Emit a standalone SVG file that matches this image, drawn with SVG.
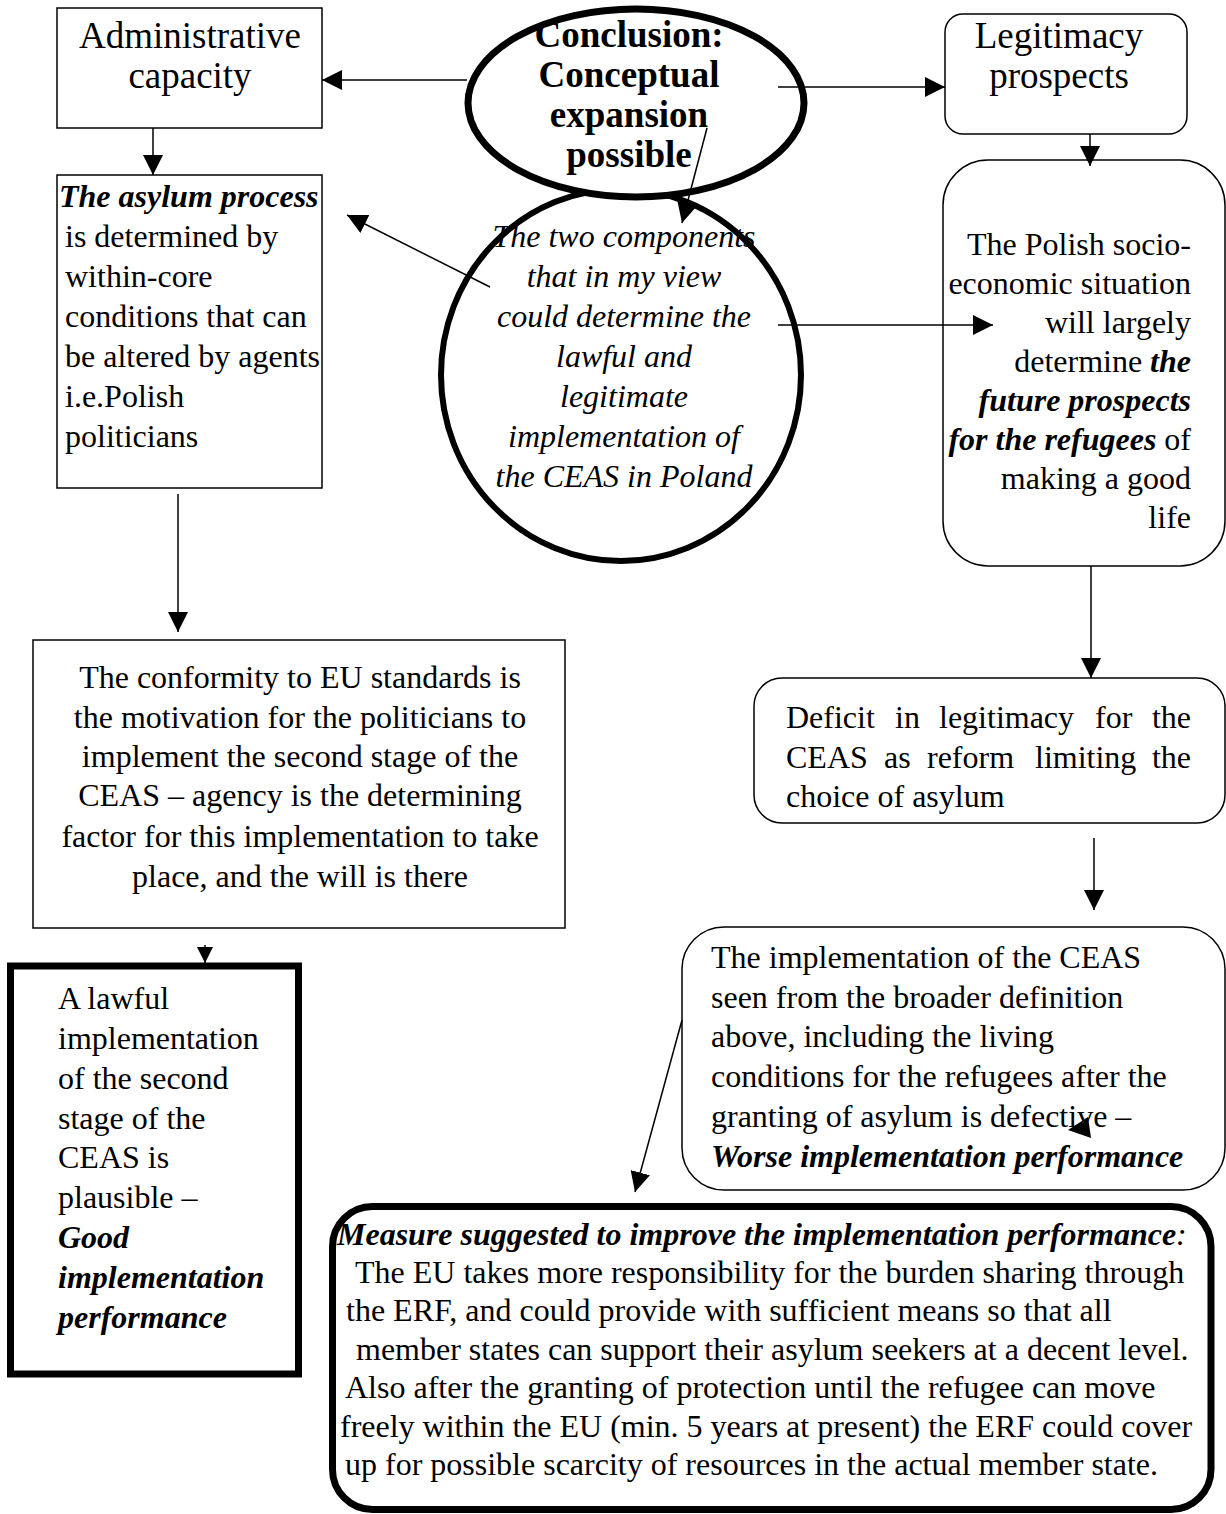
<svg xmlns="http://www.w3.org/2000/svg" width="1226" height="1514" viewBox="0 0 1226 1514">
<style>
text{font-family:"Liberation Serif","Times New Roman",serif;fill:#000}
.t{font-size:37px}
.b{font-size:32px}
.bd{font-weight:bold}
.it{font-style:italic}
.box{fill:#fff;stroke:#000;stroke-width:1.5}
.thick{fill:#fff;stroke:#000;stroke-width:7}
.ln{fill:none;stroke:#000;stroke-width:1.5}
</style>
<defs>
<marker id="ah" markerUnits="userSpaceOnUse" markerWidth="20" markerHeight="20" refX="20" refY="10" orient="auto">
<path d="M0,0 L20,10 L0,20 z" fill="#000"/>
</marker>
<marker id="ahs" markerUnits="userSpaceOnUse" markerWidth="16" markerHeight="16" refX="16" refY="8" orient="auto">
<path d="M0,0 L16,8 L0,16 z" fill="#000"/>
</marker>
</defs>
<rect width="1226" height="1514" fill="#fff"/>

<g id="admin">
<rect class="box" x="57" y="8" width="265" height="120"/>
<text class="t" x="190" y="48" text-anchor="middle">Administrative</text>
<text class="t" x="190" y="88" text-anchor="middle">capacity</text>
</g>

<g id="asylum">
<rect class="box" x="57" y="175" width="265" height="313"/>
<text class="b" x="59" y="207"><tspan class="bd it">The asylum process</tspan></text>
<text class="b" x="65" y="247">is determined by</text>
<text class="b" x="65" y="287">within-core</text>
<text class="b" x="65" y="327">conditions that can</text>
<text class="b" x="65" y="367">be altered by agents</text>
<text class="b" x="65" y="407">i.e.Polish</text>
<text class="b" x="65" y="447">politicians</text>
</g>

<g id="components">
<ellipse cx="621" cy="375" rx="180" ry="186" fill="#fff" stroke="#000" stroke-width="6"/>
<text class="b it" x="624" y="247" text-anchor="middle">The two components</text>
<text class="b it" x="624" y="287" text-anchor="middle">that in my view</text>
<text class="b it" x="624" y="327" text-anchor="middle">could determine the</text>
<text class="b it" x="624" y="367" text-anchor="middle">lawful and</text>
<text class="b it" x="624" y="407" text-anchor="middle">legitimate</text>
<text class="b it" x="624" y="447" text-anchor="middle">implementation of</text>
<text class="b it" x="624" y="487" text-anchor="middle">the CEAS in Poland</text>
</g>

<g id="conclusion">
<ellipse cx="636" cy="103" rx="168" ry="94" fill="#fff" stroke="#000" stroke-width="7"/>
<text class="t bd" x="629" y="47" text-anchor="middle">Conclusion:</text>
<text class="t bd" x="629" y="87" text-anchor="middle">Conceptual</text>
<text class="t bd" x="629" y="127" text-anchor="middle">expansion</text>
<text class="t bd" x="629" y="167" text-anchor="middle">possible</text>
</g>

<g id="legitimacy">
<rect class="box" x="945" y="14" width="242" height="120" rx="18"/>
<text class="t" x="1059" y="48" text-anchor="middle">Legitimacy</text>
<text class="t" x="1059" y="88" text-anchor="middle">prospects</text>
</g>

<g id="polish">
<rect class="box" x="943" y="160" width="282" height="406" rx="45"/>
<text class="b" x="1191" y="255" text-anchor="end">The Polish socio-</text>
<text class="b" x="1191" y="294" text-anchor="end">economic situation</text>
<text class="b" x="1191" y="333" text-anchor="end">will largely</text>
<text class="b" x="1191" y="372" text-anchor="end">determine <tspan class="bd it">the</tspan></text>
<text class="b bd it" x="1191" y="411" text-anchor="end">future prospects</text>
<text class="b" x="1191" y="450" text-anchor="end"><tspan class="bd it">for the refugees</tspan> of</text>
<text class="b" x="1191" y="489" text-anchor="end">making a good</text>
<text class="b" x="1191" y="528" text-anchor="end">life</text>
</g>

<g id="conformity">
<rect class="box" x="33" y="640" width="532" height="288"/>
<text class="b" x="300" y="688" text-anchor="middle">The conformity to EU standards is</text>
<text class="b" x="300" y="728" text-anchor="middle">the motivation for the politicians to</text>
<text class="b" x="300" y="767" text-anchor="middle">implement the second stage of the</text>
<text class="b" x="300" y="806" text-anchor="middle">CEAS – agency is the determining</text>
<text class="b" x="300" y="847" text-anchor="middle">factor for this implementation to take</text>
<text class="b" x="300" y="887" text-anchor="middle">place, and the will is there</text>
</g>

<g id="lawful">
<rect class="thick" x="10.5" y="966" width="288" height="408"/>
<text class="b" x="58" y="1009">A lawful</text>
<text class="b" x="58" y="1049">implementation</text>
<text class="b" x="58" y="1089">of the second</text>
<text class="b" x="58" y="1129">stage of the</text>
<text class="b" x="58" y="1168">CEAS is</text>
<text class="b" x="58" y="1208">plausible –</text>
<text class="b bd it" x="58" y="1248">Good</text>
<text class="b bd it" x="58" y="1288">implementation</text>
<text class="b bd it" x="58" y="1328">performance</text>
</g>

<g id="deficit">
<rect class="box" x="754" y="678" width="471" height="145" rx="28"/>
<text class="b" x="786" y="728">Deficit</text>
<text class="b" x="895" y="728">in</text>
<text class="b" x="939" y="728">legitimacy</text>
<text class="b" x="1095" y="728">for</text>
<text class="b" x="1191" y="728" text-anchor="end">the</text>
<text class="b" x="786" y="768">CEAS</text>
<text class="b" x="884" y="768">as</text>
<text class="b" x="927" y="768">reform</text>
<text class="b" x="1035" y="768">limiting</text>
<text class="b" x="1191" y="768" text-anchor="end">the</text>
<text class="b" x="786" y="807">choice of asylum</text>
</g>

<g id="implementation">
<rect class="box" x="682" y="927" width="543" height="263" rx="42"/>
<text class="b" x="711" y="968">The implementation of the CEAS</text>
<text class="b" x="711" y="1008">seen from the broader definition</text>
<text class="b" x="711" y="1047">above, including the living</text>
<text class="b" x="711" y="1087">conditions for the refugees after the</text>
<text class="b" x="711" y="1127">granting of asylum is defective –</text>
<text class="b bd it" x="711" y="1167">Worse implementation performance</text>
</g>

<g id="measure">
<rect class="thick" x="332.5" y="1206.5" width="878.5" height="303" rx="40"/>
<text class="b" x="337" y="1245"><tspan class="bd it">Measure suggested to improve the implementation performance</tspan><tspan class="it">:</tspan></text>
<text class="b" x="355" y="1283">The EU takes more responsibility for the burden sharing through</text>
<text class="b" x="346" y="1321">the ERF, and could provide with sufficient means so that all</text>
<text class="b" x="356" y="1360">member states can support their asylum seekers at a decent level.</text>
<text class="b" x="345" y="1398">Also after the granting of protection until the refugee can move</text>
<text class="b" x="340" y="1437">freely within the EU (min. 5 years at present) the ERF could cover</text>
<text class="b" x="345" y="1475">up for possible scarcity of resources in the actual member state.</text>
</g>

<g id="connectors">
<line class="ln" x1="467" y1="80" x2="322" y2="80" marker-end="url(#ah)"/>
<line class="ln" x1="778" y1="87" x2="945" y2="87" marker-end="url(#ah)"/>
<line class="ln" x1="153" y1="128" x2="153" y2="175" marker-end="url(#ah)"/>
<line class="ln" x1="707" y1="128" x2="682" y2="223" marker-end="url(#ah)"/>
<line class="ln" x1="490" y1="287" x2="347" y2="215" marker-end="url(#ah)"/>
<line class="ln" x1="778" y1="325" x2="993" y2="325" marker-end="url(#ah)"/>
<line class="ln" x1="1090" y1="134" x2="1090" y2="166" marker-end="url(#ah)"/>
<line class="ln" x1="178" y1="494" x2="178" y2="632" marker-end="url(#ah)"/>
<line class="ln" x1="205" y1="945" x2="205" y2="963" marker-end="url(#ahs)"/>
<line class="ln" x1="1091" y1="566" x2="1091" y2="678" marker-end="url(#ah)"/>
<line class="ln" x1="1094" y1="838" x2="1094" y2="910" marker-end="url(#ah)"/>
<line class="ln" x1="682" y1="1020" x2="635" y2="1192" marker-end="url(#ah)"/>
<polygon points="1068,1130 1088,1117 1091,1138" fill="#000"/>
</g>
</svg>
